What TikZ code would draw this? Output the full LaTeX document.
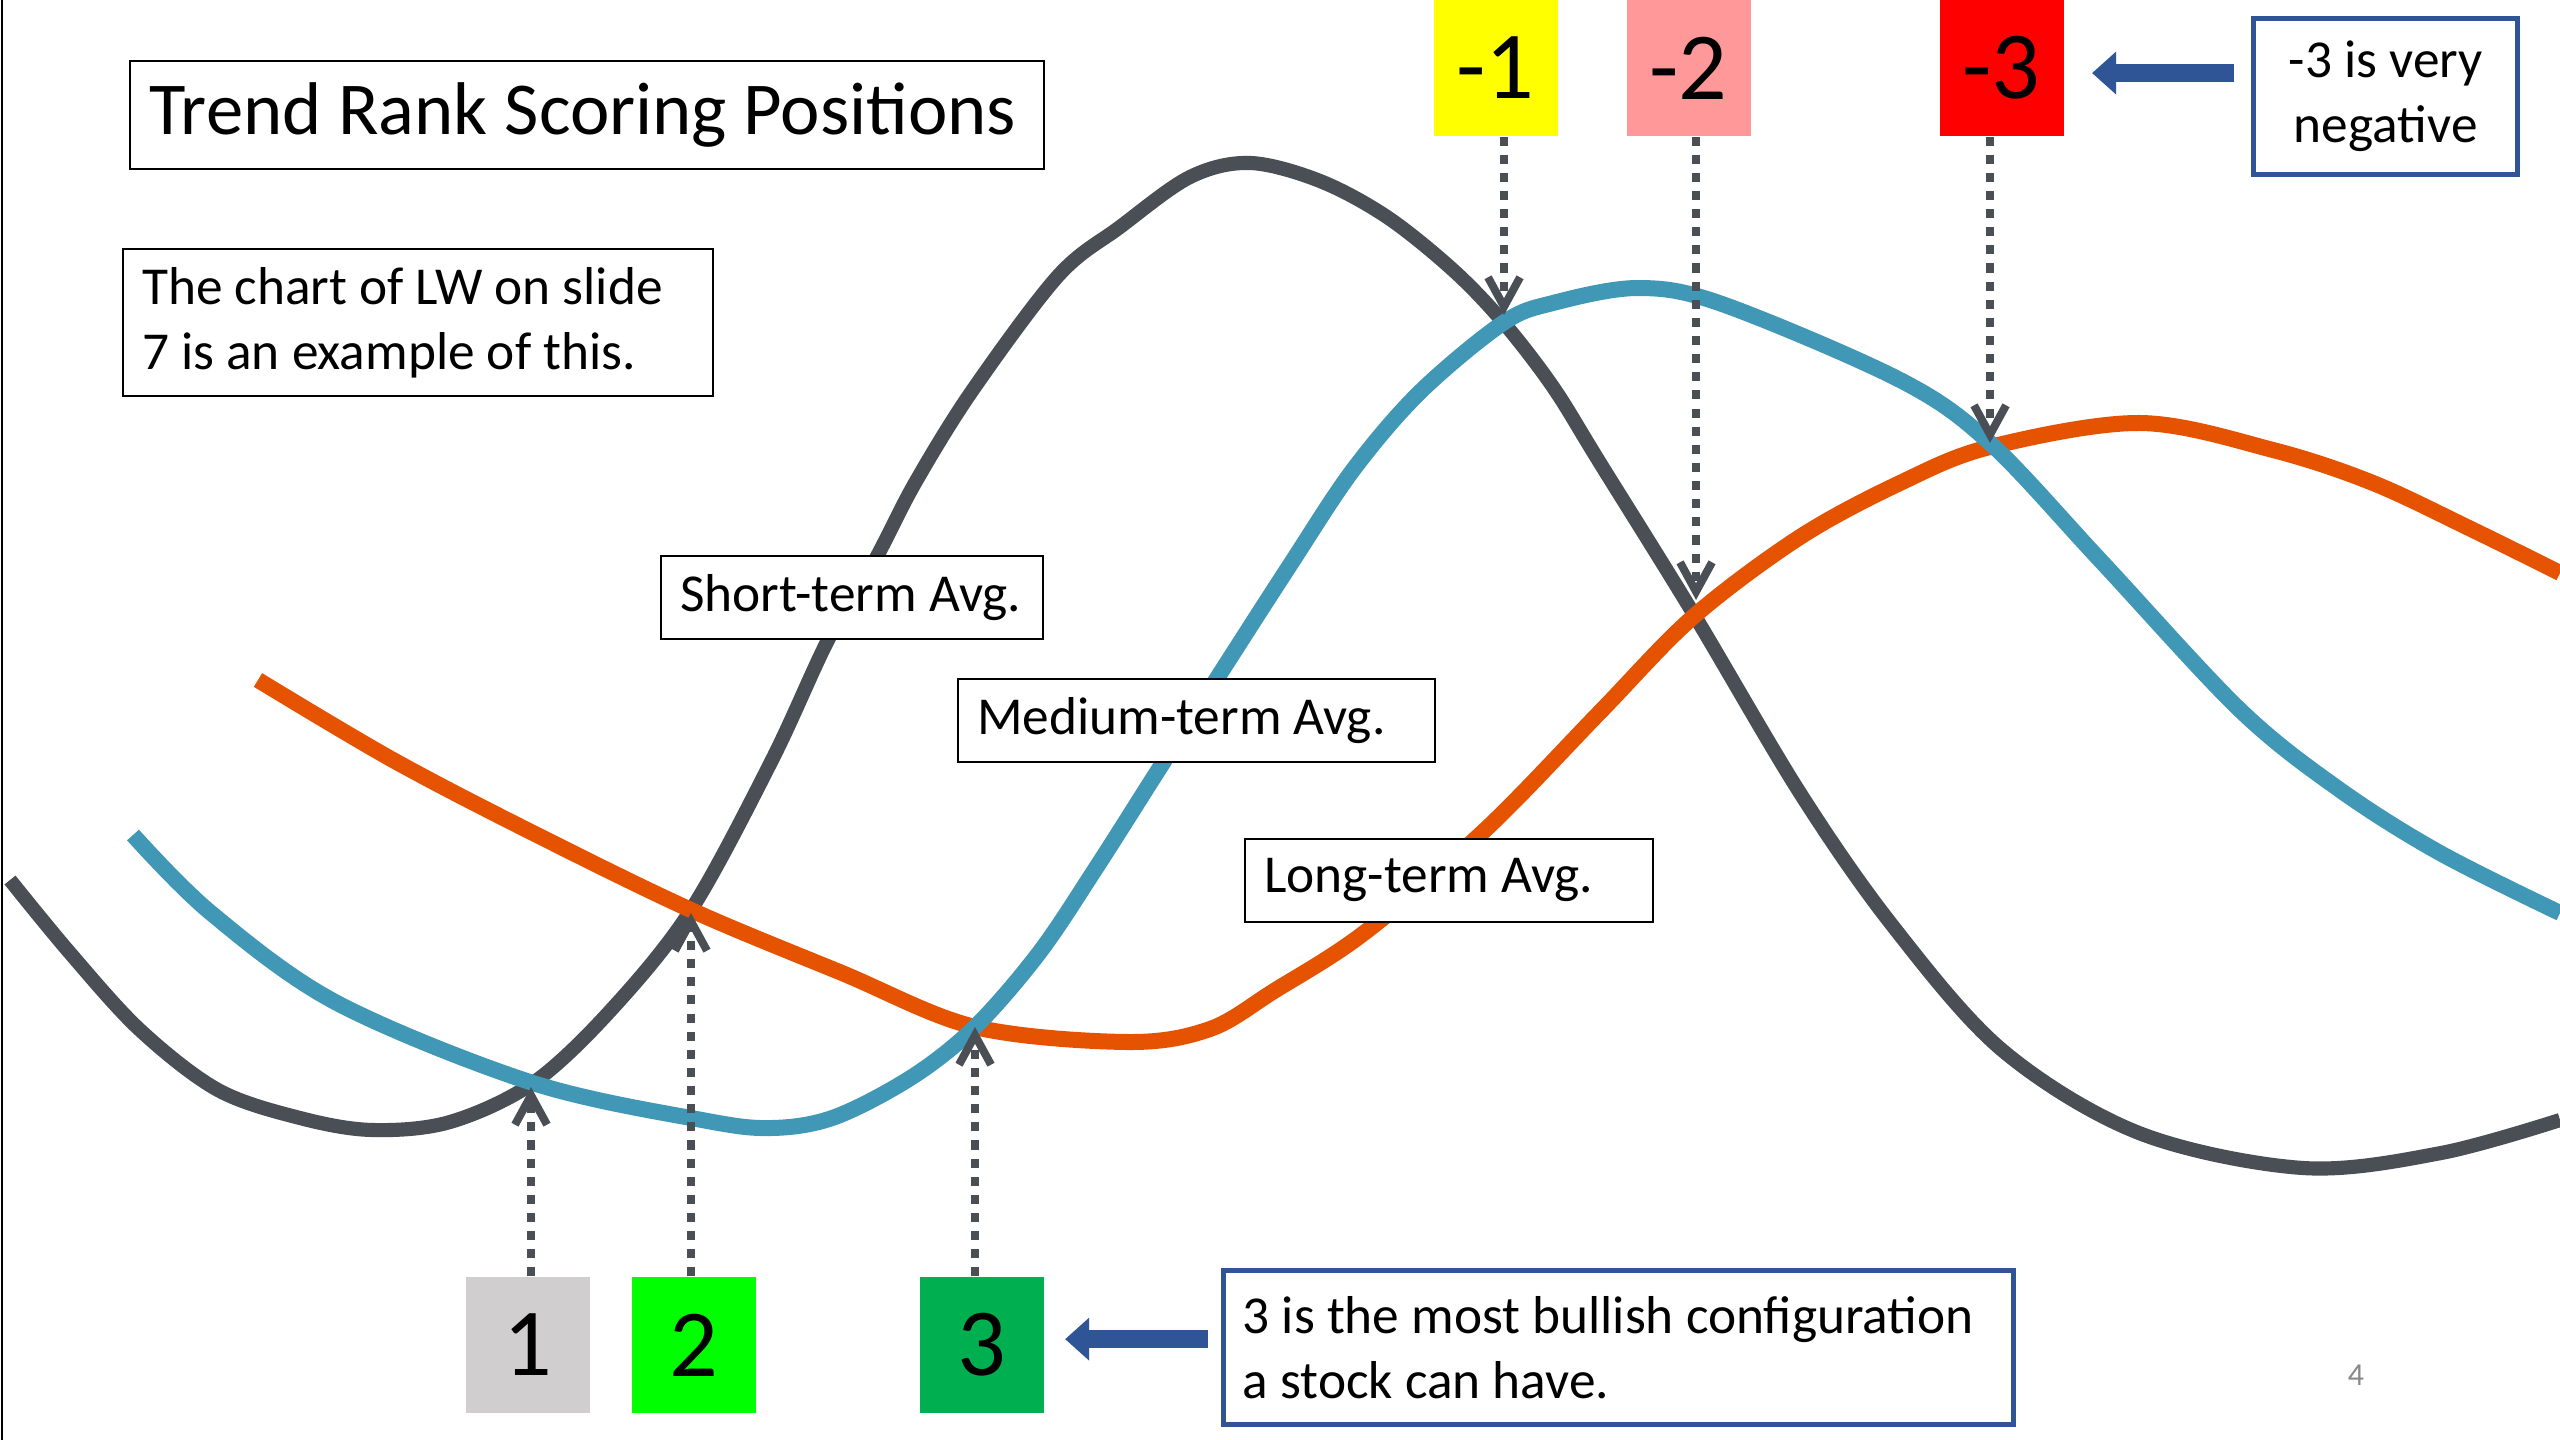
\documentclass[tikz,border=0pt]{standalone}
\usepackage{fontspec}
\setmainfont{Carlito}
\usetikzlibrary{arrows.meta}
\definecolor{shortavg}{HTML}{4A4F56}
\definecolor{medavg}{HTML}{4198B6}
\definecolor{longavg}{HTML}{E55300}
\definecolor{calloutblue}{HTML}{2F5597}
\definecolor{rankneg1}{HTML}{FFFF00}
\definecolor{rankneg2}{HTML}{FF9999}
\definecolor{rankneg3}{HTML}{FF0000}
\definecolor{rankpos1}{HTML}{D0CECE}
\definecolor{rankpos2}{HTML}{00FF00}
\definecolor{rankpos3}{HTML}{00B050}
\definecolor{pagenum}{HTML}{898989}

\begin{document}
\begin{tikzpicture}[x=0.375pt,y=-0.375pt,
  avg/.style={line width=6pt, line join=round},
  tag/.style={draw=black, line width=0.75pt, fill=white, anchor=north west, inner xsep=7.2pt, inner ysep=3.6pt, align=flush left, font=\fontsize{20}{24.4}\selectfont},
  callout/.style={tag, draw=calloutblue, line width=2pt},
  rank/.style={minimum width=46.5pt, minimum height=51pt, inner sep=0pt, font=\fontsize{36}{43}\selectfont},
  pointer/.style={draw=shortavg, line width=3pt, dash pattern=on 3.4pt off 3.4pt, -{Straight Barb[length=11pt,width=12pt]}},
  bigarrow/.style={draw=calloutblue, line width=6.6pt, -{Triangle[length=9pt,width=15.5pt]}}]
\useasboundingbox (0,0) rectangle (2560,1440);
\fill[white] (0,0) rectangle (2560,1440);
\draw[line width=1.1pt] (2,0) -- (2,1440);
% moving averages
\draw[avg, line width=5.3pt, shortavg] plot[smooth, tension=0.55] coordinates {(10,880) (70,953) (140,1030) (218,1090) (300,1118) (372,1130) (450,1122) (533,1083) (611,1010) (691,910) (772,760) (828,640) (875,560) (915,483) (972,391) (1058,276) (1120,227) (1190,177) (1250,163) (1320,181) (1387,217) (1453,270) (1503,322) (1553,387) (1600,463) (1693,613) (1800,793) (1892,925) (2002,1050) (2139,1133) (2303,1168) (2441,1153) (2560,1120)};
\draw[avg, longavg] plot[smooth, tension=0.55] coordinates {(258,680) (393,760) (533,833) (691,910) (842,973) (975,1027) (1128,1042) (1210,1029) (1274,991) (1364,933) (1485,830) (1600,712) (1693,617) (1800,537) (1900,483) (1990,447) (2140,423) (2273,450) (2373,483) (2473,530) (2560,573)};
\draw[avg, medavg] plot[smooth, tension=0.55] coordinates {(133,835) (211,913) (337,1003) (533,1083) (702,1120) (772,1128) (835,1117) (912,1077) (975,1027) (1039,953) (1096,868) (1159,769) (1223,669) (1290,565) (1353,470) (1420,392) (1503,323) (1553,303) (1638,288) (1722,304) (1900,380) (1990,443) (2100,560) (2240,710) (2340,790) (2440,853) (2560,913)};
% labels
\node[tag, font=\fontsize{28}{34}\selectfont, text width=328.4pt, minimum height=40.5pt] (title) at (129,60) {\mbox{Trend Rank Scoring Positions}};
\node[tag, text width=206.9pt, minimum height=55.1pt] (note) at (122,248) {The chart of LW on slide\\7 is an example of this.};
\node[tag, text width=128.9pt, minimum height=31.1pt] (shortlbl) at (660,555) {Short-term Avg.};
\node[tag, text width=164.5pt, minimum height=31.1pt] (medlbl) at (957,678) {Medium-term Avg.};
\node[tag, text width=138.6pt, minimum height=31.1pt] (longlbl) at (1244,838) {Long-term Avg.};
\node[callout, align=flush center, text width=84.6pt, minimum height=58.5pt] (negbox) at (2251,16) {-3 is very\\negative};
\node[callout, text width=281.9pt, minimum height=57.8pt] (bullbox) at (1221,1268) {3 is the most bullish configuration\\a stock can have.};
% rank boxes
\node[rank, fill=rankneg1] (rm1) at (1495.5,68) {-1};
\node[rank, fill=rankneg2] (rm2) at (1688.5,68) {-2};
\node[rank, fill=rankneg3] (rm3) at (2001.5,68) {-3};
\node[rank, fill=rankpos1] (rp1) at (527.5,1345) {1};
\node[rank, fill=rankpos2] (rp2) at (693.5,1345) {2};
\node[rank, fill=rankpos3] (rp3) at (981.5,1345) {3};
\coordinate (x1) at (531,1087);
\coordinate (x2) at (691,913);
\coordinate (x3) at (975,1027);
\coordinate (xm1) at (1504,315);
\coordinate (xm2) at (1696,600);
\coordinate (xm3) at (1990,443);
\draw[pointer] (rp1.north -| x1) -- (x1);
\draw[pointer] (rp2.north -| x2) -- (x2);
\draw[pointer] (rp3.north -| x3) -- (x3);
\draw[pointer] (rm1.south -| xm1) -- (xm1);
\draw[pointer] (rm2.south -| xm2) -- (xm2);
\draw[pointer] (rm3.south -| xm3) -- (xm3);
\draw[bigarrow, shorten <=6.4pt, shorten >=10.5pt] ([yshift=-1.9pt]rm3.east -| negbox.west) -- ([yshift=-1.9pt]rm3.east);
\draw[bigarrow, shorten <=4.9pt, shorten >=7.9pt] ([yshift=2.2pt]rp3.east -| bullbox.west) -- ([yshift=2.2pt]rp3.east);
\node[text=pagenum, font=\fontsize{12}{14}\selectfont] (pg) at (2356,1375) {4};
\end{tikzpicture}
\end{document}
